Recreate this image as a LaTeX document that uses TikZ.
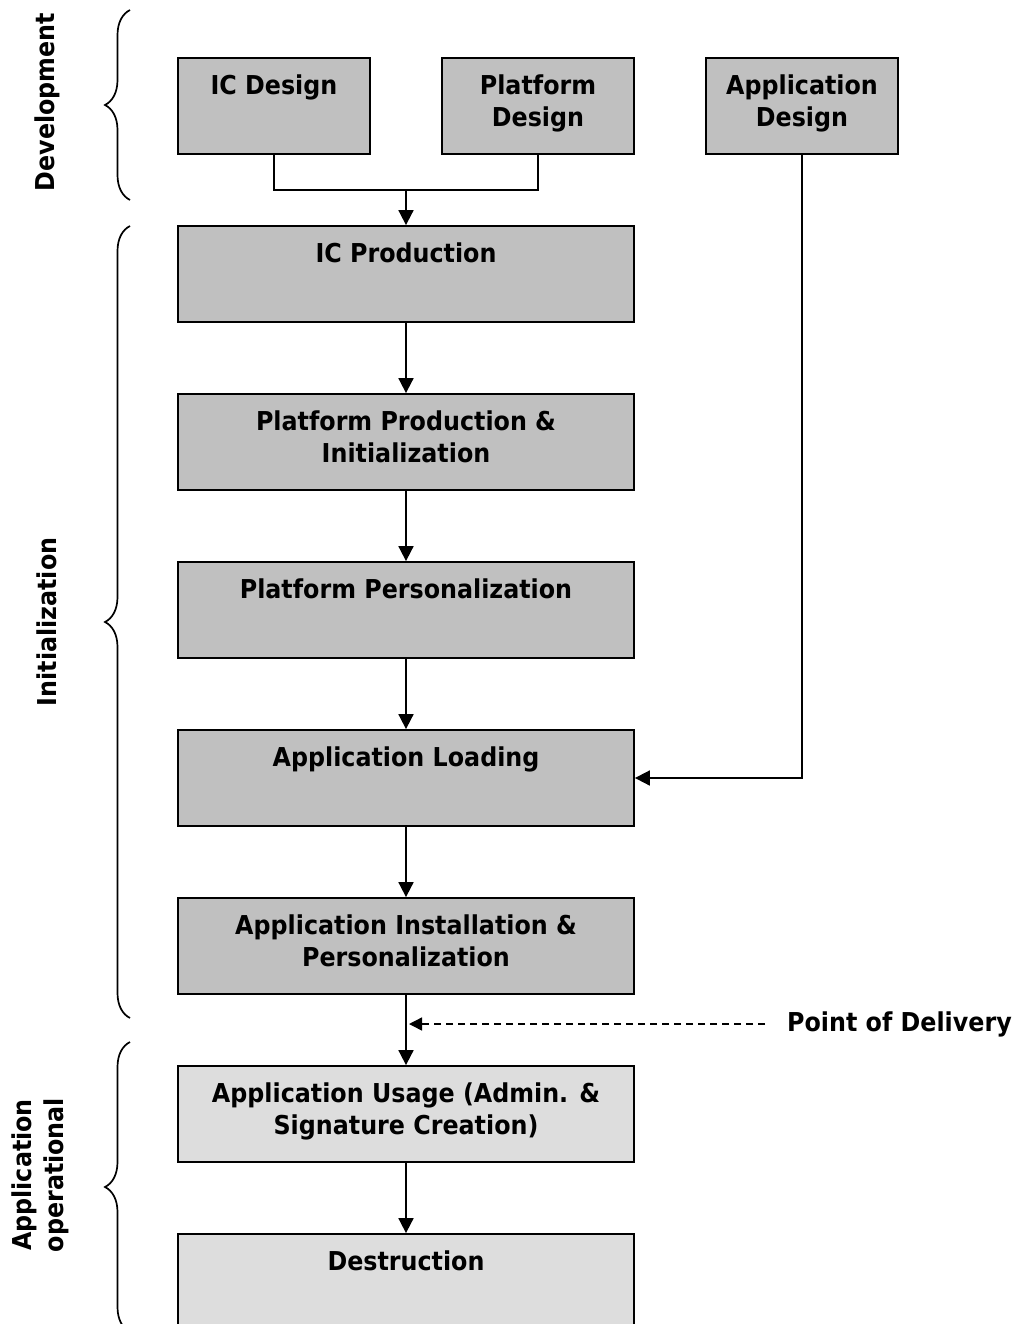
\documentclass[tikz,border=0pt]{standalone}
\usepackage{fontspec}
\setmainfont{DejaVu Sans}[FakeStretch=0.915]
\usetikzlibrary{arrows.meta,decorations.pathreplacing,calc}
\definecolor{stagedark}{HTML}{C0C0C0}
\definecolor{stagelight}{HTML}{DDDDDD}
\begin{document}
\begin{tikzpicture}[x=1pt,y=-1pt,
  every node/.style={font=\fontsize{26}{32}\selectfont\bfseries},
  stage/.style={draw=black, line width=1.8pt, fill=stagedark, inner sep=0pt, minimum width=456pt, minimum height=96pt},
  small/.style={stage, minimum width=192pt},
  late/.style={stage, fill=stagelight},
  caption/.style={anchor=north, align=center, inner sep=0pt, yshift=-17.2pt},
  flow/.style={line width=1.8pt, -{Triangle[length=15pt,width=15pt]}},
  link/.style={line width=1.8pt},
  phase/.style={line width=1.7pt, decorate, decoration={brace, amplitude=25pt}},
  phasename/.style={rotate=90, align=center, inner sep=0pt}]
\useasboundingbox (0,0) rectangle (1013,1324);

% development boxes
\node[small] (icd) at (274,106) {};
\node[caption] at (icd.north) {IC Design};
\node[small] (pd) at (538,106) {};
\node[caption] at (pd.north) {Platform\\Design};
\node[small] (ad) at (802,106) {};
\node[caption] at (ad.north) {Application\\Design};

% main chain
\node[stage] (icp) at (406,274) {};
\node[caption] at (icp.north) {IC Production};
\node[stage] (ppi) at (406,442) {};
\node[caption] at (ppi.north) {Platform Production \&\\Initialization};
\node[stage] (ppe) at (406,610) {};
\node[caption] at (ppe.north) {Platform Personalization};
\node[stage] (al) at (406,778) {};
\node[caption] at (al.north) {Application Loading};
\node[stage] (aip) at (406,946) {};
\node[caption] at (aip.north) {Application Installation \&\\Personalization};
\node[late] (au) at (406,1114) {};
\node[caption] at (au.north) {Application Usage (Admin. \&\\Signature Creation)};
\node[late] (de) at (406,1282) {};
\node[caption] at (de.north) {Destruction};

% joining the two design branches
\coordinate (join) at (406,190);
\draw[link] (icd.south) |- (pd.south |- join) -- (pd.south);
\draw[flow] (join) -- (icp.north);
\draw[flow] (icp) -- (ppi);
\draw[flow] (ppi) -- (ppe);
\draw[flow] (ppe) -- (al);
\draw[flow] (al) -- (aip);
\draw[flow] (aip) -- (au);
\draw[flow] (au) -- (de);
\draw[flow] (ad.south) |- (al.east);

% delivery marker
\node[anchor=west, inner sep=0pt] (pod) at (787,1024) {Point of Delivery};
\coordinate (podtip) at (409,1024);
\draw[line width=1.4pt, dash pattern=on 7pt off 5pt, -{Triangle[length=13pt,width=13pt]}] ($(pod.west)+(-22,0)$) -- (podtip);

% phase braces
\draw[phase] (130,200) -- (130,10);
\draw[phase] (130,1018) -- (130,226);
\draw[phase] (130,1332) -- (130,1042);
\node[phasename] at (47,102) {Development};
\node[phasename] at (47,622) {Initialization};
\node[phasename] at (40,1175) {Application\\operational};
\end{tikzpicture}
\end{document}
